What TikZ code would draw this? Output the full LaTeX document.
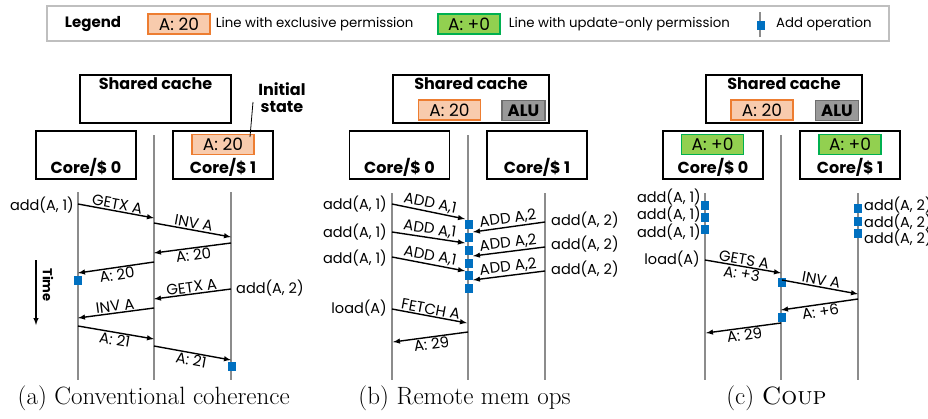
\documentclass[tikz,border=0pt]{standalone}
\usepackage{fontspec}
\newfontfamily\pop{Poppins}
\usetikzlibrary{arrows}
\usetikzlibrary{positioning}
\definecolor{exclfill}{HTML}{F8CBAD}
\definecolor{excldraw}{HTML}{ED7D31}
\definecolor{updfill}{HTML}{92D050}
\definecolor{upddraw}{HTML}{00B050}
\definecolor{opblue}{HTML}{0070C0}
\definecolor{lifegray}{HTML}{8C8C8C}
\definecolor{alufill}{HTML}{999999}
\definecolor{aludraw}{HTML}{6E6E6E}
\definecolor{legdraw}{HTML}{BFBFBF}

\begin{document}
\begin{tikzpicture}[x=1pt,y=-1pt,
    box/.style={draw=black,line width=1.8pt,minimum width=100pt,minimum height=48pt},
    hdr/.style={font=\pop\bfseries\fontsize{16}{17}\selectfont,inner sep=1pt},
    txt/.style={font=\pop\fontsize{14.5}{16}\selectfont,inner sep=1pt},
    legtxt/.style={font=\pop\fontsize{13.3}{15}\selectfont,inner sep=1pt},
    excl/.style={draw=excldraw,fill=exclfill,line width=1.2pt,minimum width=62pt,minimum height=20pt,inner sep=0pt,font=\pop\fontsize{17}{17}\selectfont},
    upd/.style={excl,draw=upddraw,fill=updfill},
    alu/.style={draw=aludraw,fill=alufill,line width=1.2pt,minimum width=43pt,minimum height=20pt,inner sep=0pt,font=\pop\bfseries\fontsize{16.5}{17}\selectfont},
    life/.style={draw=lifegray,line width=1.5pt},
    msg/.style={-latex,line width=1.4pt},
    msgl/.style={latex-,line width=1.4pt},
    lbl/.style={font=\pop\fontsize{15}{16}\selectfont,inner sep=1pt,sloped,midway},
    addop/.style={fill=opblue,minimum width=8pt,minimum height=9pt,inner sep=0pt},
    capt/.style={font=\fontsize{25}{27}\selectfont}
  ]
  \useasboundingbox (0,0) rectangle (928,418);

  % legend
  \node[draw=legdraw,line width=1.2pt,minimum width=842pt,minimum height=35pt] (legend) at (468,23.5) {};
  \node[hdr,font=\pop\bfseries\fontsize{15}{17}\selectfont] (legtitle) at (93,24) {Legend};
  \node[excl] (legexcl) at (179,24) {A: 20};
  \node[legtxt,right=4pt of legexcl] (legexcltxt) {Line with exclusive permission};
  \node[upd] (legupd) at (469,24) {A: +0};
  \node[legtxt,right=7pt of legupd] (legupdtxt) {Line with update-only permission};
  \coordinate (legopt) at (760,12);
  \coordinate (legopb) at (760,37);
  \draw[life] (legopt) -- (legopb);
  \node[addop] (legop) at (761,25) {};
  \node[legtxt,anchor=west] (legoptxt) at (775,24) {Add operation};

  % (a) conventional coherence
  \node[box,minimum width=151pt] (shA) at (155.5,99) {};
  \node[hdr,below=2pt of shA.north] (shAtxt) {Shared cache};
  \node[box] (c0A) at (86,155) {};
  \node[hdr,above=2pt of c0A.south] (c0Atxt) {Core/\$ 0};
  \node[box] (c1A) at (223,155) {};
  \node[hdr,above=2pt of c1A.south] (c1Atxt) {Core/\$ 1};
  \node[excl] (c1Aval) at (223,144.5) {A: 20};
  \node[hdr,align=center] (initA) at (282,98) {Initial\\state};
  \coordinate (initAp) at (253,102);
  \coordinate (initAq) at (250,137);
  \draw[line width=0.8pt] (initAp) -- (initAq);

  \coordinate (a0t) at (78,192);  \coordinate (a0b) at (78,380);
  \coordinate (a1t) at (154,135); \coordinate (a1b) at (154,380);
  \coordinate (a2t) at (231,192); \coordinate (a2b) at (231,380);
  \draw[life] (a0t) -- (a0b);
  \draw[life] (a1t) -- (a1b);
  \draw[life] (a2t) -- (a2b);

  \coordinate (ap1) at (78,204);  \coordinate (aq1) at (154,218);
  \coordinate (ap2) at (154,223); \coordinate (aq2) at (231,237);
  \coordinate (ap3) at (154,253); \coordinate (aq3) at (231,243);
  \coordinate (ap4) at (78,273);  \coordinate (aq4) at (154,262);
  \coordinate (ap5) at (154,299); \coordinate (aq5) at (231,289);
  \coordinate (ap6) at (78,318);  \coordinate (aq6) at (154,308);
  \coordinate (ap7) at (78,326);  \coordinate (aq7) at (154,339);
  \coordinate (ap8) at (154,346); \coordinate (aq8) at (231,360);
  \draw[msg] (ap1) -- (aq1) node[lbl,above] {GETX A};
  \draw[msg] (ap2) -- (aq2) node[lbl,above] {INV A};
  \draw[msgl] (ap3) -- (aq3) node[lbl,below] {A: 20};
  \draw[msgl] (ap4) -- (aq4) node[lbl,below] {A: 20};
  \draw[msgl] (ap5) -- (aq5) node[lbl,above] {GETX A};
  \draw[msgl] (ap6) -- (aq6) node[lbl,above] {INV A};
  \draw[msg] (ap7) -- (aq7) node[lbl,below] {A: 21};
  \draw[msg] (ap8) -- (aq8) node[lbl,below] {A: 21};
  \node[txt,anchor=east] (addA1) at (75,205) {add(A, 1)};
  \node[txt,anchor=west] (addA2) at (235,288) {add(A, 2)};
  \node[addop] (opA1) at (78,280) {};
  \node[addop] (opA2) at (232,366) {};

  \coordinate (timet) at (36,260);
  \coordinate (timeb) at (36,325);
  \draw[msg] (timet) -- (timeb);
  \node[hdr,font=\pop\bfseries\fontsize{13}{14}\selectfont,rotate=-90] (timeA) at (48,285) {Time};
  \node[capt] (captA) at (153.7,398) {(a) Conventional coherence};

  % (b) remote mem ops
  \node[box,minimum width=156pt] (shB) at (471,99) {};
  \node[hdr,below=2pt of shB.north] (shBtxt) {Shared cache};
  \node[excl] (shBval) at (449.5,110) {A: 20};
  \node[alu] (aluB) at (523.5,110.5) {ALU};
  \node[box] (c0B) at (399.5,155) {};
  \node[hdr,above=2pt of c0B.south] (c0Btxt) {Core/\$ 0};
  \node[box] (c1B) at (537,155) {};
  \node[hdr,above=2pt of c1B.south] (c1Btxt) {Core/\$ 1};

  \coordinate (b0t) at (392,193); \coordinate (b0b) at (392,380);
  \coordinate (b1t) at (468,135); \coordinate (b1b) at (468,380);
  \coordinate (b2t) at (545,193); \coordinate (b2b) at (545,380);
  \draw[life] (b0t) -- (b0b);
  \draw[life] (b1t) -- (b1b);
  \draw[life] (b2t) -- (b2b);

  \foreach \i/\y in {1/224,2/237,3/250,4/263,5/275,6/288}
    \node[addop] (opB\i) at (469,\y) {};

  \coordinate (bp1) at (392,204); \coordinate (bq1) at (465,219);
  \coordinate (bp2) at (392,232); \coordinate (bq2) at (465,243);
  \coordinate (bp3) at (392,257); \coordinate (bq3) at (465,271);
  \coordinate (br1) at (473,232); \coordinate (bs1) at (545,222);
  \coordinate (br2) at (473,256); \coordinate (bs2) at (545,247);
  \coordinate (br3) at (473,280); \coordinate (bs3) at (545,271);
  \coordinate (bp4) at (392,309); \coordinate (bq4) at (467,323);
  \coordinate (bp5) at (393,342); \coordinate (bq5) at (468,332);
  \foreach \i in {1,2,3} {
    \draw[msg] (bp\i) -- (bq\i) node[lbl,above] {ADD A,1};
    \draw[msgl] (br\i) -- (bs\i) node[lbl,above] {ADD A,2};
  }
  \draw[msg] (bp4) -- (bq4) node[lbl,above] {FETCH A};
  \draw[msgl] (bp5) -- (bq5) node[lbl,below] {A: 29};
  \foreach \i/\y in {1/204,2/232,3/258}
    \node[txt,anchor=east] (addB1\i) at (388,\y) {add(A, 1)};
  \foreach \i/\y in {1/220,2/244,3/269}
    \node[txt,anchor=west] (addB2\i) at (550,\y) {add(A, 2)};
  \node[txt,anchor=east] (loadB) at (388,308) {load(A)};
  \node[capt] (captB) at (464.5,398) {(b) Remote mem ops};

  % (c) coup
  \node[box,minimum width=156pt] (shC) at (784,99) {};
  \node[hdr,below=2pt of shC.north] (shCtxt) {Shared cache};
  \node[excl] (shCval) at (762,110) {A: 20};
  \node[alu] (aluC) at (837,110.5) {ALU};
  \node[box] (c0C) at (713,155) {};
  \node[hdr,above=2pt of c0C.south] (c0Ctxt) {Core/\$ 0};
  \node[upd] (c0Cval) at (712.5,144.5) {A: +0};
  \node[box] (c1C) at (850,155) {};
  \node[hdr,above=2pt of c1C.south] (c1Ctxt) {Core/\$ 1};
  \node[upd] (c1Cval) at (850,144.5) {A: +0};

  \coordinate (c0t) at (705,193); \coordinate (c0b) at (705,380);
  \coordinate (c1t) at (781,135); \coordinate (c1b) at (781,380);
  \coordinate (c2t) at (858,193); \coordinate (c2b) at (858,380);
  \draw[life] (c0t) -- (c0b);
  \draw[life] (c1t) -- (c1b);
  \draw[life] (c2t) -- (c2b);

  \foreach \i/\y/\z in {1/205/197,2/217/214,3/229/232} {
    \node[addop] (opC0\i) at (705,\y) {};
    \node[txt,anchor=east] (addC1\i) at (702,\z) {add(A, 1)};
  }
  \foreach \i/\y/\z in {1/208/205,2/221/222,3/233/238} {
    \node[addop] (opC2\i) at (858,\y) {};
    \node[txt,anchor=west] (addC2\i) at (863,\z) {add(A, 2)};
  }
  \node[txt,anchor=east] (loadC) at (701,259) {load(A)};
  \node[addop] (opC11) at (782,282) {};
  \node[addop] (opC12) at (782,317) {};

  \coordinate (cp1) at (705,260); \coordinate (cq1) at (781,273);
  \coordinate (cp2) at (782,280); \coordinate (cq2) at (858,294);
  \coordinate (cp3) at (781,310); \coordinate (cq3) at (858,299);
  \coordinate (cp4) at (706,333); \coordinate (cq4) at (781,323);
  \draw[msg] (cp1) -- (cq1) node[lbl,above] {GETS A} node[lbl,below] {A: +3};
  \draw[msg] (cp2) -- (cq2) node[lbl,above] {INV A};
  \draw[msgl] (cp3) -- (cq3) node[lbl,below] {A: +6};
  \draw[msgl] (cp4) -- (cq4) node[lbl,below] {A: 29};
  \node[capt] (captC) at (776.5,398) {(c) \textsc{Coup}};
\end{tikzpicture}
\end{document}
